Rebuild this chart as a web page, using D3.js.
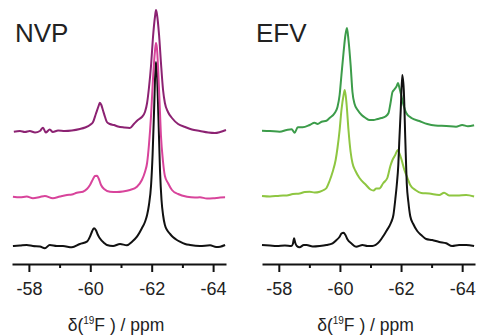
<!DOCTYPE html>
<html lang="en">
<head>
<meta charset="utf-8"/>
<title>19F NMR spectra</title>
<script src="https://d3js.org/d3.v7.min.js"></script>
<style>
  body { margin: 0; background: #fff; }
  text { font-family: "Liberation Sans", Arial, Helvetica, sans-serif; fill: #222; }
  .axis .domain, .axis line { stroke: #111; stroke-width: 2px; }
  .trace { fill: none; stroke-width: 2px; stroke-linejoin: round; }
</style>
</head>
<body>
<div id="chart"></div>
<script>
// tick labels
var majorTicks = [-58, -60, -62, -64];
var minorTicks = [-59, -61, -63];
var panelNames = ["NVP", "EFV"];

// vertical offsets of the stacked traces (top, middle, bottom)
var offsets = [115, 49, 0];

// NVP spectra, [ppm, intensity above own baseline]
var nvpTop = [[-57.51,-0.7],[-57.71,0],[-57.87,-1],[-58.03,0],[-58.20,-1.5],[-58.36,0],[-58.46,3.3],[-58.55,-1.5],
  [-58.68,1.5],[-58.78,-1],[-58.95,0.5],[-59.17,0],[-59.40,0.5],[-59.66,2],[-59.83,3.5],[-59.99,6],[-60.09,9],
  [-60.18,17],[-60.27,25],[-60.31,28.3],[-60.36,26],[-60.41,21],[-60.48,14],[-60.54,9],[-60.64,7],[-60.77,6],
  [-60.90,4.5],[-61.10,3.5],[-61.29,3],[-61.42,7],[-61.55,11],[-61.68,14],[-61.78,19],[-61.85,28],[-61.91,43],
  [-61.98,66],[-62.04,93],[-62.11,115],[-62.14,121],[-62.17,117],[-62.24,96],[-62.30,69],[-62.37,41],[-62.43,28],
  [-62.53,19],[-62.66,13],[-62.86,7],[-63.09,4],[-63.31,1.5],[-63.57,0],[-63.84,-1.5],[-64.06,-2],[-64.23,-1],[-64.42,1]];

var nvpMid = [[-57.48,0.3],[-57.71,-0.3],[-57.93,0.5],[-58.13,-1.3],[-58.36,0],[-58.52,1],[-58.78,-1.3],[-59.01,0.5],
  [-59.24,2],[-59.40,2.5],[-59.56,4.3],[-59.76,5.3],[-59.89,8],[-59.99,12],[-60.09,18],[-60.15,21],[-60.22,21.3],
  [-60.28,18],[-60.35,12],[-60.45,8],[-60.64,5.3],[-60.87,5],[-61.06,5.5],[-61.29,7],[-61.52,10.3],[-61.68,17],
  [-61.78,25],[-61.85,34],[-61.91,52],[-61.98,82],[-62.04,117],[-62.11,147],[-62.14,154],[-62.17,149],[-62.24,107],
  [-62.30,62],[-62.37,35],[-62.43,21],[-62.53,14],[-62.66,7],[-62.86,3],[-63.15,0.3],[-63.41,-0.5],[-63.57,-0.3],
  [-63.80,-1.5],[-64.00,-1.3],[-64.23,-0.5],[-64.39,-0.3]];

var nvpLow = [[-57.48,0],[-57.71,0.5],[-57.93,1],[-58.13,0],[-58.36,-0.5],[-58.52,-2.3],[-58.68,1],[-58.91,0],
  [-59.11,0],[-59.40,-1.3],[-59.66,2],[-59.89,4.3],[-59.99,9.3],[-60.05,14],[-60.12,17.7],[-60.18,16],[-60.25,11],
  [-60.31,7.7],[-60.45,3],[-60.54,1],[-60.74,0],[-60.97,2],[-61.19,0.7],[-61.36,4.3],[-61.52,9.3],[-61.68,17.7],
  [-61.78,24],[-61.85,31],[-61.91,41],[-61.98,61],[-62.03,92],[-62.08,138],[-62.12,176],[-62.14,184],[-62.17,174],
  [-62.22,128],[-62.27,76],[-62.32,46],[-62.37,31],[-62.43,21],[-62.50,16],[-62.60,12],[-62.69,9],[-62.82,6],
  [-62.92,4.3],[-63.09,2],[-63.25,1],[-63.57,0],[-63.90,0.7],[-64.10,-1],[-64.23,-0.7],[-64.39,1]];

// EFV spectra
var efvTop = [[-57.45,0.3],[-57.71,0],[-58.03,-0.7],[-58.26,1],[-58.42,1.7],[-58.52,-1.7],[-58.62,3.7],[-58.78,3.7],
  [-59.01,6],[-59.17,8.3],[-59.27,7],[-59.40,9.3],[-59.56,10.3],[-59.66,13],[-59.83,18],[-59.92,24],[-59.99,36],
  [-60.05,56],[-60.12,79],[-60.18,96],[-60.23,103],[-60.28,91],[-60.35,66],[-60.41,39],[-60.48,27],[-60.58,21],
  [-60.71,16],[-60.84,13],[-60.97,11],[-61.10,11],[-61.23,12],[-61.36,13],[-61.49,14.5],[-61.59,18],[-61.65,27],
  [-61.72,39],[-61.78,41.5],[-61.85,44.5],[-61.90,48],[-61.94,44],[-62.01,35],[-62.08,26],[-62.17,18],[-62.34,13],
  [-62.60,10],[-62.86,7],[-63.12,5.5],[-63.48,5],[-63.80,4.3],[-64.00,6],[-64.19,4.7],[-64.39,5.7]];

var efvMid = [[-57.45,1],[-57.71,0.5],[-58.03,1.3],[-58.26,1.5],[-58.46,3],[-58.68,3.5],[-58.85,5],[-59.01,5.3],
  [-59.17,4.5],[-59.34,5.3],[-59.47,7],[-59.56,9],[-59.66,16],[-59.76,25],[-59.86,37],[-59.92,49],[-59.99,67],
  [-60.05,87],[-60.12,102],[-60.16,107],[-60.22,92],[-60.28,67],[-60.35,45],[-60.41,34],[-60.51,26],[-60.64,19],
  [-60.84,12.5],[-61.00,7.5],[-61.10,6.5],[-61.19,8.5],[-61.29,8.5],[-61.42,14],[-61.55,19],[-61.65,31],
  [-61.72,37],[-61.81,42],[-61.89,47],[-61.94,44],[-62.01,38],[-62.11,27],[-62.21,19],[-62.30,12],[-62.47,7],
  [-62.66,4],[-62.92,3.5],[-63.25,2],[-63.41,4.3],[-63.57,1.5],[-63.84,1.5],[-64.13,2],[-64.39,0.5]];

var efvLow = [[-57.45,1],[-57.71,0.5],[-57.93,0],[-58.20,0.5],[-58.41,0],[-58.46,2],[-58.50,7.7],[-58.54,3],
  [-58.59,0],[-58.68,-1.3],[-58.82,1],[-58.91,1],[-59.11,-0.5],[-59.34,0],[-59.56,1],[-59.76,2.7],[-59.89,6],
  [-59.99,9.3],[-60.05,12.5],[-60.12,13.3],[-60.18,11],[-60.25,6.5],[-60.37,2.7],[-60.53,-0.7],[-60.74,1],
  [-60.90,0],[-61.06,0],[-61.29,4.3],[-61.42,10],[-61.52,15],[-61.62,20],[-61.68,24],[-61.75,31],[-61.81,46],
  [-61.86,61],[-61.91,81],[-61.94,103],[-61.99,136],[-62.04,171],[-62.09,156],[-62.14,106],[-62.19,61],[-62.24,44],
  [-62.30,30],[-62.40,22],[-62.53,15],[-62.66,11],[-62.82,7],[-63.02,6],[-63.25,4],[-63.48,2.7],[-63.67,0],
  [-63.90,1],[-64.13,1],[-64.39,0]];

var nvpColors = ["#8c2272", "#d8449b", "#111111"];
var efvColors = ["#3c9c4a", "#8ec641", "#111111"];

var width = 478, height = 335;

var svg = d3.select("#chart").append("svg")
  .attr("width", width)
  .attr("height", height);

// shared intensity scale, black baseline at y = 246
var y = d3.scaleLinear().domain([0, 246]).range([246, 0]);

var panels = [
  { name: panelNames[0], range: [12, 226], traces: [nvpLow, nvpMid, nvpTop], offs: [offsets[2], offsets[1], offsets[0]],
    colors: [nvpColors[2], nvpColors[1], nvpColors[0]], titleX: 15 },
  { name: panelNames[1], range: [262, 475], traces: [efvTop, efvMid, efvLow], offs: offsets,
    colors: efvColors, titleX: 256 }
];

panels.forEach(function(p) {
  var x = d3.scaleLinear().domain([-57.45, -64.42]).range(p.range);
  var g = svg.append("g");

  p.traces.forEach(function(tr, i) {
    var line = d3.line()
      .x(function(d) { return x(d[0]); })
      .y(function(d) { return y(d[1] + p.offs[i]); })
      .curve(d3.curveMonotoneX);
    g.append("path")
      .datum(tr)
      .attr("class", "trace")
      .attr("stroke", p.colors[i])
      .attr("d", line);
  });

  // minor ticks
  g.append("g")
    .attr("class", "axis")
    .attr("transform", "translate(0,264)")
    .call(d3.axisBottom(x).tickValues(minorTicks).tickSize(4).tickSizeOuter(0).tickFormat(""))
    .select(".domain").remove();

  g.append("g")
    .attr("class", "axis")
    .attr("transform", "translate(0,264)")
    .call(d3.axisBottom(x)
      .tickValues(majorTicks)
      .tickSize(8)
      .tickSizeOuter(0)
      .tickPadding(10)
      .tickFormat(function(d) { return String(d); }))
    .selectAll("text")
      .attr("font-size", 18)
      .attr("font-family", "Liberation Sans, Arial, sans-serif")
      .attr("fill", "#222");

  g.append("text")
    .attr("x", p.titleX)
    .attr("y", 42)
    .attr("font-size", 26)
    .text(p.name);

  var cx = (p.range[0] + p.range[1]) / 2 - 3;
  var lab = g.append("text")
    .attr("x", cx)
    .attr("y", 331)
    .attr("text-anchor", "middle")
    .attr("font-size", 17.5);
  lab.append("tspan").text("\u03b4(");
  lab.append("tspan").attr("font-size", 10).attr("dy", -7).text("19");
  lab.append("tspan").attr("dy", 7).text("F ) / ppm");
});
</script>
</body>
</html>
